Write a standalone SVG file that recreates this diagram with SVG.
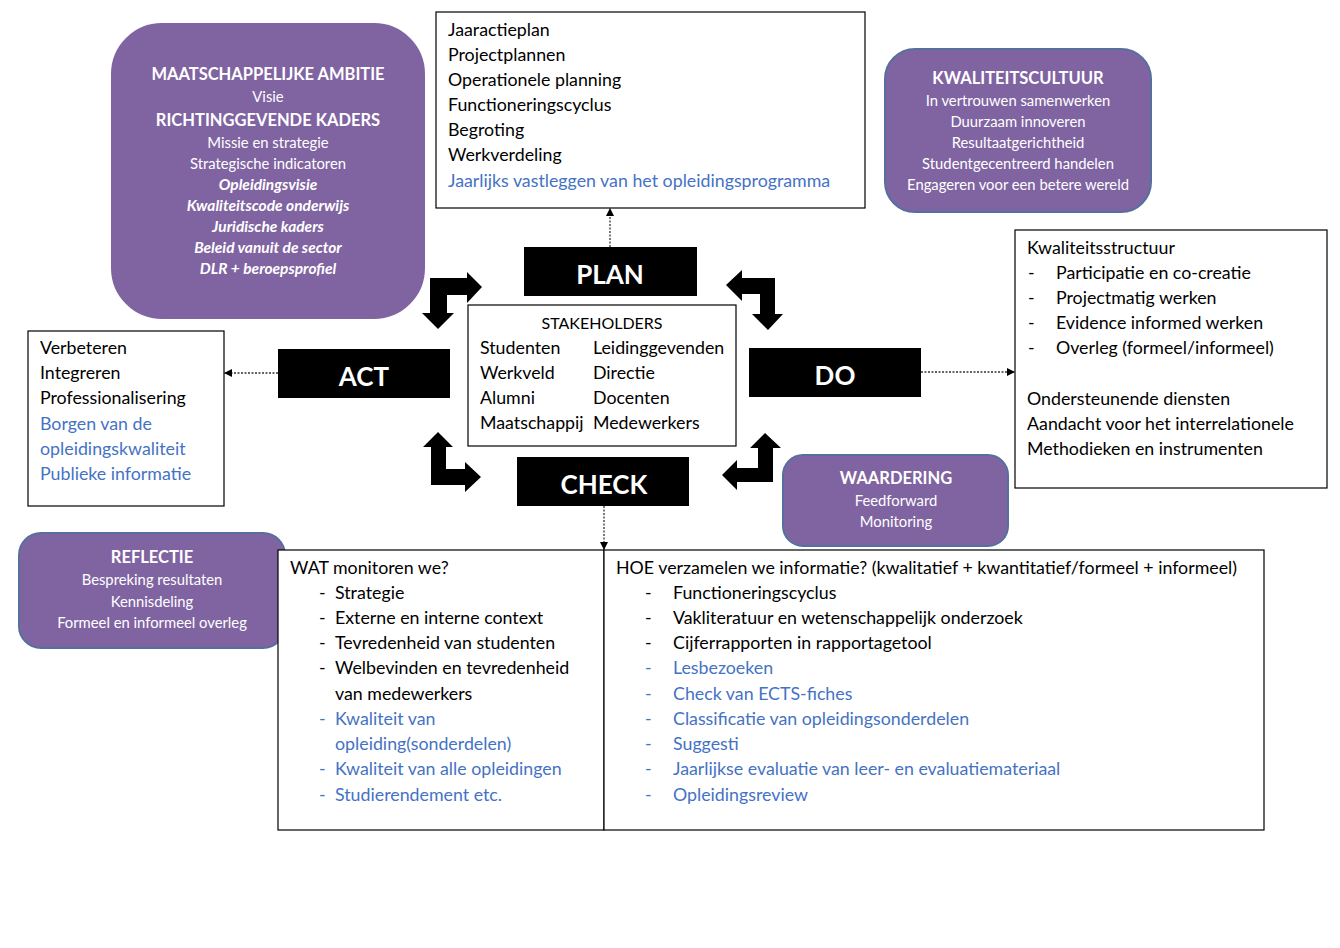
<svg xmlns="http://www.w3.org/2000/svg" width="1340" height="948" viewBox="0 0 1340 948">
<style>
text{font-family:Lato,"Open Sans","Liberation Sans",sans-serif;fill:#000}
.t{font-size:17.8px}
.b{fill:#4472c4}
.p{fill:#8064a2;stroke:#55709e;stroke-width:2}
.w{fill:#fff;font-size:14.8px;text-anchor:middle}
.wh{fill:#fff;font-size:16.5px;font-weight:bold;text-anchor:middle}
.wi{fill:#fff;font-size:15.5px;font-weight:bold;font-style:italic;text-anchor:middle}
.box{fill:#fff;stroke:#000;stroke-width:1.2}
.blk{fill:#000}
.bt{fill:#fff;font-size:26px;font-weight:bold;text-anchor:middle}
.con{stroke:#333;stroke-width:1.3;stroke-dasharray:2 1.5;fill:none}
</style>
<defs>
<marker id="ah" viewBox="0 0 10 10" refX="10" refY="5" markerWidth="8" markerHeight="8" markerUnits="userSpaceOnUse" orient="auto">
<path d="M0,0 L10,5 L0,10 z" fill="#000"/>
</marker>
</defs>
<rect width="1340" height="948" fill="#fff"/>

<g id="ambitie">
<rect class="p" x="112" y="24" width="312" height="294" rx="50" style="stroke:#8064a2"/>
<text class="wh" x="268" y="80">MAATSCHAPPELIJKE AMBITIE</text>
<text class="w" x="268" y="102">Visie</text>
<text class="wh" x="268" y="126">RICHTINGGEVENDE KADERS</text>
<text class="w" x="268" y="148">Missie en strategie</text>
<text class="w" x="268" y="169">Strategische indicatoren</text>
<text class="wi" x="268" y="190">Opleidingsvisie</text>
<text class="wi" x="268" y="211">Kwaliteitscode onderwijs</text>
<text class="wi" x="268" y="232">Juridische kaders</text>
<text class="wi" x="268" y="253">Beleid vanuit de sector</text>
<text class="wi" x="268" y="274">DLR + beroepsprofiel</text>
</g>

<g id="plan-box">
<rect class="box" x="436" y="12" width="429" height="196"/>
<text class="t" x="448" y="36">Jaaractieplan</text>
<text class="t" x="448" y="61">Projectplannen</text>
<text class="t" x="448" y="86">Operationele planning</text>
<text class="t" x="448" y="111">Functioneringscyclus</text>
<text class="t" x="448" y="136">Begroting</text>
<text class="t" x="448" y="161">Werkverdeling</text>
<text class="t b" x="448" y="187">Jaarlijks vastleggen van het opleidingsprogramma</text>
</g>

<g id="kwaliteitscultuur">
<rect class="p" x="885" y="49" width="266" height="163" rx="30"/>
<text class="wh" x="1018" y="84">KWALITEITSCULTUUR</text>
<text class="w" x="1018" y="106">In vertrouwen samenwerken</text>
<text class="w" x="1018" y="127">Duurzaam innoveren</text>
<text class="w" x="1018" y="148">Resultaatgerichtheid</text>
<text class="w" x="1018" y="169">Studentgecentreerd handelen</text>
<text class="w" x="1018" y="190">Engageren voor een betere wereld</text>
</g>

<g id="plan">
<rect class="blk" x="524" y="247" width="173" height="49"/>
<text class="bt" x="610" y="284">PLAN</text>
</g>
<g id="act">
<rect class="blk" x="278" y="349" width="172" height="49"/>
<text class="bt" x="364" y="386">ACT</text>
</g>
<g id="do">
<rect class="blk" x="749" y="348" width="172" height="49"/>
<text class="bt" x="835" y="385">DO</text>
</g>
<g id="check">
<rect class="blk" x="517" y="457" width="172" height="49"/>
<text class="bt" x="604" y="494">CHECK</text>
</g>

<g id="stakeholders">
<rect class="box" x="468" y="305" width="268" height="141"/>
<text x="602" y="329" style="font-size:16px;text-anchor:middle">STAKEHOLDERS</text>
<text class="t" x="480" y="354">Studenten</text>
<text class="t" x="593" y="354">Leidinggevenden</text>
<text class="t" x="480" y="379">Werkveld</text>
<text class="t" x="593" y="379">Directie</text>
<text class="t" x="480" y="404">Alumni</text>
<text class="t" x="593" y="404">Docenten</text>
<text class="t" x="480" y="429">Maatschappij</text>
<text class="t" x="593" y="429">Medewerkers</text>
</g>

<g id="act-box">
<rect class="box" x="28" y="331" width="196" height="175"/>
<text class="t" x="40" y="354">Verbeteren</text>
<text class="t" x="40" y="379">Integreren</text>
<text class="t" x="40" y="404">Professionalisering</text>
<text class="t b" x="40" y="430">Borgen van de</text>
<text class="t b" x="40" y="455">opleidingskwaliteit</text>
<text class="t b" x="40" y="480">Publieke informatie</text>
</g>

<g id="do-box">
<rect class="box" x="1015" y="230" width="312" height="258"/>
<text class="t" x="1027" y="254">Kwaliteitsstructuur</text>
<text class="t" x="1028" y="279">-</text><text class="t" x="1056" y="279">Participatie en co-creatie</text>
<text class="t" x="1028" y="304">-</text><text class="t" x="1056" y="304">Projectmatig werken</text>
<text class="t" x="1028" y="329">-</text><text class="t" x="1056" y="329">Evidence informed werken</text>
<text class="t" x="1028" y="354">-</text><text class="t" x="1056" y="354">Overleg (formeel/informeel)</text>
<text class="t" x="1027" y="405">Ondersteunende diensten</text>
<text class="t" x="1027" y="430">Aandacht voor het interrelationele</text>
<text class="t" x="1027" y="455">Methodieken en instrumenten</text>
</g>

<g id="waardering">
<rect class="p" x="783" y="455" width="225" height="91" rx="20"/>
<text class="wh" x="896" y="484">WAARDERING</text>
<text class="w" x="896" y="506">Feedforward</text>
<text class="w" x="896" y="527">Monitoring</text>
</g>

<g id="reflectie">
<rect class="p" x="19" y="533" width="266" height="115" rx="22"/>
<text class="wh" x="152" y="563">REFLECTIE</text>
<text class="w" x="152" y="585">Bespreking resultaten</text>
<text class="w" x="152" y="607">Kennisdeling</text>
<text class="w" x="152" y="628">Formeel en informeel overleg</text>
</g>

<g id="wat-box">
<rect class="box" x="278" y="550" width="326" height="280"/>
<text class="t" x="290" y="574">WAT monitoren we?</text>
<text class="t" x="319" y="599">-</text><text class="t" x="335" y="599">Strategie</text>
<text class="t" x="319" y="624">-</text><text class="t" x="335" y="624">Externe en interne context</text>
<text class="t" x="319" y="649">-</text><text class="t" x="335" y="649">Tevredenheid van studenten</text>
<text class="t" x="319" y="674">-</text><text class="t" x="335" y="674">Welbevinden en tevredenheid</text>
<text class="t" x="335" y="700">van medewerkers</text>
<text class="t b" x="319" y="725">-</text><text class="t b" x="335" y="725">Kwaliteit van</text>
<text class="t b" x="335" y="750">opleiding(sonderdelen)</text>
<text class="t b" x="319" y="775">-</text><text class="t b" x="335" y="775">Kwaliteit van alle opleidingen</text>
<text class="t b" x="319" y="801">-</text><text class="t b" x="335" y="801">Studierendement etc.</text>
</g>

<g id="hoe-box">
<rect class="box" x="604" y="550" width="660" height="280"/>
<text class="t" x="616" y="574">HOE verzamelen we informatie? (kwalitatief + kwantitatief/formeel + informeel)</text>
<text class="t" x="645" y="599">-</text><text class="t" x="673" y="599">Functioneringscyclus</text>
<text class="t" x="645" y="624">-</text><text class="t" x="673" y="624">Vakliteratuur en wetenschappelijk onderzoek</text>
<text class="t" x="645" y="649">-</text><text class="t" x="673" y="649">Cijferrapporten in rapportagetool</text>
<text class="t b" x="645" y="674">-</text><text class="t b" x="673" y="674">Lesbezoeken</text>
<text class="t b" x="645" y="700">-</text><text class="t b" x="673" y="700">Check van ECTS-fiches</text>
<text class="t b" x="645" y="725">-</text><text class="t b" x="673" y="725">Classificatie van opleidingsonderdelen</text>
<text class="t b" x="645" y="750">-</text><text class="t b" x="673" y="750">Suggesti</text>
<text class="t b" x="645" y="775">-</text><text class="t b" x="673" y="775">Jaarlijkse evaluatie van leer- en evaluatiemateriaal</text>
<text class="t b" x="645" y="801">-</text><text class="t b" x="673" y="801">Opleidingsreview</text>
</g>

<g id="connectors">
<line class="con" x1="610" y1="247" x2="610" y2="208" marker-end="url(#ah)"/>
<line class="con" x1="278" y1="373" x2="224" y2="373" marker-end="url(#ah)"/>
<line class="con" x1="921" y1="372" x2="1015" y2="372" marker-end="url(#ah)"/>
<line class="con" x1="604" y1="506" x2="604" y2="550" marker-end="url(#ah)"/>
<polygon class="blk" points="482,287 467,272 467,278 430,278 430,313 422,313 438,329 454,313 447,313 447,295 467,295 467,303"/>
<polygon class="blk" points="726,285 742,270 742,278 775,278 775,314 783,314 768,330 752,314 760,314 760,294 742,294 742,301"/>
<polygon class="blk" points="438,432 453,447 446,447 446,469 465,469 465,462 481,477 465,492 465,485 431,485 431,447 423,447"/>
<polygon class="blk" points="765,433 781,448 773,448 773,482 737,482 737,490 722,475 737,460 737,468 758,468 758,448 750,448"/>
</g>
</svg>
